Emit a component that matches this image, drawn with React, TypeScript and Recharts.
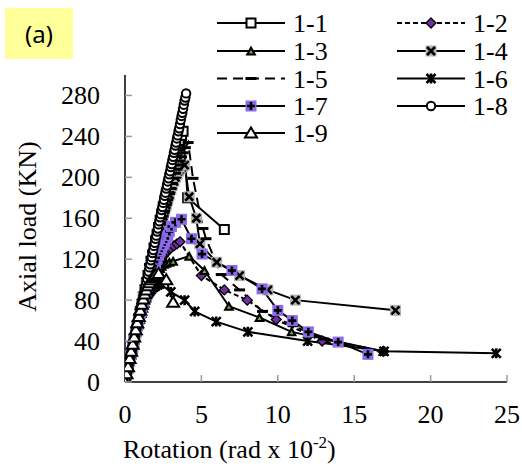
import React from "react";
import { LineChart, Line, XAxis, YAxis, Legend } from "recharts";

type Pt = [number, number];

// Rotation (rad x 10^-2), Axial load (KN)
const s11: Pt[] = [[0,0],[0.1,7],[0.2,14],[0.3,20],[0.4,27],[0.5,34],[0.6,41],[0.7,48],[0.8,55],[0.9,62],[1.0,69],[1.1,76],[1.2,83],[1.3,90],[1.4,97],[1.5,104],[1.6,111],[1.7,118],[1.8,124],[1.9,131],[2.0,138],[2.1,144],[2.2,151],[2.3,158],[2.4,164],[2.5,171],[2.6,177],[2.7,184],[2.8,190],[2.9,196],[3.0,202],[3.1,208],[3.2,214],[3.3,220],[3.4,226],[3.5,231],[3.6,236],[3.7,241],[3.8,245],[4.1,180],[6.5,149]];
const s12: Pt[] = [[0,0],[0.1,7],[0.2,13],[0.3,20],[0.4,26],[0.5,33],[0.6,39],[0.7,45],[0.8,52],[0.9,58],[1.0,64],[1.1,70],[1.2,75],[1.3,80],[1.4,85],[1.5,90],[1.6,95],[1.7,99],[1.8,103],[1.9,107],[2.0,110],[2.1,113],[2.2,116],[2.3,119],[2.4,121],[2.5,123],[2.6,125],[2.7,127],[2.8,128],[2.9,130],[3.0,131],[3.2,133],[3.4,135],[3.6,137],[5.0,104],[6.5,90],[8.0,80],[9.9,61],[12.9,40],[16.9,30]];
const s13: Pt[] = [[0,0],[0.1,6],[0.2,13],[0.3,19],[0.4,26],[0.5,32],[0.6,38],[0.7,44],[0.8,50],[0.9,56],[1.0,61],[1.1,67],[1.2,72],[1.3,77],[1.4,82],[1.5,87],[1.6,91],[1.7,95],[1.8,98],[1.9,101],[2.0,104],[2.1,107],[2.2,109],[2.3,111],[2.4,113],[2.55,115],[2.7,116],[2.9,117],[3.15,118],[4.2,123],[5.2,109],[6.8,74],[8.8,63],[10.9,49],[16.9,30]];
const s14: Pt[] = [[0,0],[0.1,7],[0.2,14],[0.3,20],[0.4,27],[0.5,34],[0.6,41],[0.7,48],[0.8,55],[0.9,61],[1.0,68],[1.1,75],[1.2,82],[1.3,88],[1.4,95],[1.5,102],[1.6,108],[1.7,115],[1.8,121],[1.9,127],[2.0,133],[2.1,139],[2.2,145],[2.3,151],[2.4,157],[2.5,162],[2.6,168],[2.7,173],[2.8,178],[2.9,183],[3.0,188],[3.1,192],[3.2,196],[3.3,200],[3.4,203],[3.5,206],[3.6,208],[3.75,210],[3.9,212],[4.2,181],[4.67,160],[4.9,135],[6.0,117],[7.5,104],[9.35,90],[11.15,80],[17.7,70]];
const s15: Pt[] = [[0,0],[0.1,7],[0.2,13],[0.3,20],[0.4,27],[0.5,33],[0.6,40],[0.7,47],[0.8,54],[0.9,60],[1.0,67],[1.1,74],[1.2,81],[1.3,87],[1.4,94],[1.5,100],[1.6,107],[1.7,113],[1.8,119],[1.9,126],[2.0,132],[2.1,138],[2.2,144],[2.3,150],[2.4,156],[2.5,162],[2.6,167],[2.7,173],[2.8,178],[2.9,184],[3.0,189],[3.1,194],[3.2,199],[3.3,204],[3.4,208],[3.5,212],[3.6,216],[3.7,220],[3.8,224],[3.95,229],[4.13,234],[4.45,199],[5.1,150],[5.3,140],[6.3,105],[7.5,90],[9.0,69],[11.0,55],[13.0,42],[16.9,30]];
const s16: Pt[] = [[0,0],[0.1,8],[0.2,15],[0.3,22],[0.4,29],[0.5,36],[0.6,43],[0.7,50],[0.8,56],[0.9,62],[1.0,67],[1.1,72],[1.2,76],[1.3,80],[1.4,83],[1.5,86],[1.6,88],[1.7,90],[1.8,92],[1.9,93],[2.0,94],[2.15,95],[2.3,96],[3.0,88],[3.9,80],[4.56,69],[5.97,59],[8.04,49],[11.95,40],[16.95,30],[24.3,28]];
const s17: Pt[] = [[0,0],[0.1,7],[0.2,14],[0.3,21],[0.4,28],[0.5,35],[0.6,42],[0.7,49],[0.8,55],[0.9,61],[1.0,67],[1.1,73],[1.2,78],[1.3,84],[1.4,89],[1.5,94],[1.6,99],[1.7,104],[1.8,108],[1.9,112],[2.0,116],[2.1,120],[2.2,124],[2.3,128],[2.4,131],[2.5,134],[2.6,137],[2.7,140],[2.8,143],[2.9,147],[3.04,152],[3.3,156],[3.7,159],[4.35,140],[5.04,125],[7.0,109],[8.97,91],[10.0,70],[10.95,60],[12.0,49],[13.95,39],[15.9,27]];
const s18: Pt[] = [[0,0],[0.05,3],[0.1,7],[0.15,10],[0.2,14],[0.25,17],[0.3,21],[0.35,24],[0.4,28],[0.45,31],[0.5,35],[0.55,38],[0.6,42],[0.65,45],[0.7,49],[0.75,52],[0.8,56],[0.85,59],[0.9,63],[0.95,66],[1.0,70],[1.05,73],[1.1,77],[1.15,80],[1.2,84],[1.25,87],[1.3,91],[1.35,94],[1.4,98],[1.45,101],[1.5,105],[1.55,108],[1.6,112],[1.65,115],[1.7,119],[1.75,122],[1.8,126],[1.85,129],[1.9,133],[1.95,136],[2.0,140],[2.05,143],[2.1,147],[2.15,150],[2.2,154],[2.25,157],[2.3,161],[2.35,164],[2.4,168],[2.45,171],[2.5,175],[2.55,178],[2.6,182],[2.65,185],[2.7,189],[2.75,192],[2.8,196],[2.85,199],[2.9,203],[2.95,206],[3.0,210],[3.05,213],[3.1,217],[3.15,220],[3.2,224],[3.25,227],[3.3,231],[3.35,234],[3.4,238],[3.45,241],[3.5,245],[3.55,248],[3.6,252],[3.65,256],[3.7,260],[3.75,263],[3.8,267],[3.85,271],[3.9,275],[3.95,278],[4.0,282]];
const s19: Pt[] = [[0,0],[0.1,8],[0.2,15],[0.3,23],[0.4,30],[0.5,37],[0.6,44],[0.7,51],[0.8,58],[0.9,64],[1.0,70],[1.1,76],[1.2,81],[1.3,86],[1.4,90],[1.5,94],[1.6,97],[1.7,100],[1.8,102],[1.9,104],[2.0,105],[2.2,106],[2.7,100],[3.15,78]];

const seriesNames = ["1-1", "1-2", "1-3", "1-4", "1-5", "1-6", "1-7", "1-8", "1-9"];
const seriesValues: Pt[][] = [s11, s12, s13, s14, s15, s16, s17, s18, s19];
const markerKinds = ["square", "diamond", "triFill", "xbox", "dash", "star", "plusSq", "circle", "triOpen"];
const dashes = ["", "5 3", "", "", "10 6", "", "", "", ""];

const xTicks = [0, 5, 10, 15, 20, 25];
const yTicks = [0, 40, 80, 120, 160, 200, 240, 280];

const SERIF = "'Liberation Serif', 'Times New Roman', serif";
const PURPLE_D = "#7030A0";
const PURPLE_L = "#8B6BEA";
const GREEN = "#70AD47";

function Marker({ kind, cx, cy }: { kind: string; cx: number; cy: number }) {
  switch (kind) {
    case "square":
      return <rect x={cx - 4.5} y={cy - 4.5} width={9} height={9} fill="#fff" stroke="#000" strokeWidth={2} />;
    case "diamond":
      return <polygon points={`${cx},${cy - 5} ${cx + 5},${cy} ${cx},${cy + 5} ${cx - 5},${cy}`} fill={PURPLE_D} stroke="#000" strokeWidth={1.3} />;
    case "triFill":
      return (
        <g>
          <polygon points={`${cx},${cy - 5.5} ${cx + 5.5},${cy + 4.5} ${cx - 5.5},${cy + 4.5}`} fill="#000" />
          <polygon points={`${cx},${cy - 1} ${cx + 2},${cy + 2.5} ${cx - 2},${cy + 2.5}`} fill={GREEN} />
        </g>
      );
    case "xbox":
      return (
        <g>
          <rect x={cx - 5.5} y={cy - 5.5} width={11} height={11} fill="#B4B4B4" />
          <path d={`M${cx - 4},${cy - 4}L${cx + 4},${cy + 4}M${cx + 4},${cy - 4}L${cx - 4},${cy + 4}`} stroke="#000" strokeWidth={2.6} />
        </g>
      );
    case "dash":
      return <rect x={cx - 5.5} y={cy - 1.5} width={11} height={3} fill="#000" />;
    case "star":
      return <path d={`M${cx - 4.5},${cy - 4.5}L${cx + 4.5},${cy + 4.5}M${cx + 4.5},${cy - 4.5}L${cx - 4.5},${cy + 4.5}M${cx},${cy - 5}L${cx},${cy + 5}`} stroke="#000" strokeWidth={2.6} />;
    case "plusSq":
      return (
        <g>
          <rect x={cx - 5.5} y={cy - 5.5} width={11} height={11} fill={PURPLE_L} />
          <path d={`M${cx - 4},${cy}L${cx + 4},${cy}M${cx},${cy - 4}L${cx},${cy + 4}`} stroke="#000" strokeWidth={2.6} />
        </g>
      );
    case "circle":
      return <circle cx={cx} cy={cy} r={4.2} fill="#fff" stroke="#000" strokeWidth={2} />;
    case "triOpen":
      return <polygon points={`${cx},${cy - 5.5} ${cx + 6},${cy + 4.5} ${cx - 6},${cy + 4.5}`} fill="#fff" stroke="#000" strokeWidth={2} />;
    default:
      return null;
  }
}

const YTick = (props: any) => {
  const { x, y, payload } = props;
  return (
    <g>
      <line x1={x} x2={x + 7} y1={y} y2={y} stroke="#9a9a9a" strokeWidth={1.5} />
      <text x={x - 25} y={y + 9} textAnchor="end" fontSize={26} fontFamily={SERIF} fill="#000">
        {payload.value}
      </text>
    </g>
  );
};

const XTick = (props: any) => {
  const { x, y, payload } = props;
  return (
    <g>
      {payload.value !== 0 && <line x1={x} x2={x} y1={y} y2={y - 7} stroke="#9a9a9a" strokeWidth={1.5} />}
      <text x={x} y={y + 41} textAnchor="middle" fontSize={26} fontFamily={SERIF} fill="#000">
        {payload.value}
      </text>
    </g>
  );
};

const XTitle = (props: any) => {
  const vb = props.viewBox || { x: 125, y: 382 };
  return (
    <text x={vb.x - 2} y={vb.y + 76} textAnchor="start" fontSize={26} fontFamily={SERIF} fill="#000">
      Rotation (rad x 10
      <tspan fontSize={17} dy={-10}>-2</tspan>
      <tspan dy={10}>)</tspan>
    </text>
  );
};

const YTitle = (props: any) => {
  const vb = props.viewBox || { x: 65, y: 75, height: 307 };
  const cx = vb.x - 38;
  const cy = vb.y + vb.height / 2 - 2;
  return (
    <text x={cx} y={cy} transform={`rotate(-90 ${cx} ${cy})`} textAnchor="middle" dominantBaseline="central" fontSize={26} fontFamily={SERIF} fill="#000">
      Axial load (KN)
    </text>
  );
};

const LegendContent = () => {
  const colX = [217, 397];
  const rowY = [23, 51, 78.5, 106, 133];
  return (
    <svg width={522} height={150} style={{ display: "block" }}>
      {seriesNames.map((name, i) => {
        const lx = colX[i % 2];
        const ly = rowY[Math.floor(i / 2)];
        return (
          <g key={name}>
            <line x1={lx} x2={lx + 68} y1={ly} y2={ly} stroke="#000" strokeWidth={2} strokeDasharray={dashes[i] || undefined} />
            <Marker kind={markerKinds[i]} cx={lx + 34} cy={ly} />
            <text x={lx + 76} y={ly + 9} fontSize={26} fontFamily={SERIF} fill="#000">
              {name}
            </text>
          </g>
        );
      })}
    </svg>
  );
};

export default function App() {
  const datasets = seriesValues.map((s) => s.map(([x, y]) => ({ x, y })));
  return (
    <div style={{ position: "absolute", left: 0, top: 0, width: 522, height: 469, background: "#fff" }}>
      <div
        style={{
          position: "absolute",
          left: 5,
          top: 8,
          width: 68,
          height: 51,
          background: "#FFFF99",
          zIndex: 2,
          display: "flex",
          alignItems: "center",
          justifyContent: "center",
          fontFamily: "'Noto Sans', 'Open Sans', sans-serif",
          fontSize: 24,
          color: "#000",
        }}
      >
        (a)
      </div>
      <LineChart width={522} height={469} margin={{ top: 75, right: 15, bottom: 47, left: 65 }}>
        <XAxis
          dataKey="x"
          type="number"
          domain={[0, 25]}
          ticks={xTicks}
          interval={0}
          tickSize={0}
          tickMargin={0}
          tick={<XTick />}
          tickLine={false}
          axisLine={{ stroke: "#000", strokeWidth: 1.5 }}
          height={40}
          allowDataOverflow
          label={<XTitle />}
        />
        <YAxis
          type="number"
          domain={[0, 300]}
          ticks={yTicks}
          interval={0}
          tickSize={0}
          tickMargin={0}
          tick={<YTick />}
          tickLine={false}
          axisLine={{ stroke: "#000", strokeWidth: 1.5 }}
          width={60}
          allowDataOverflow
          label={<YTitle />}
        />
        <Legend
          layout="horizontal"
          verticalAlign="middle"
          align="center"
          content={<LegendContent />}
          wrapperStyle={{ top: 0, left: 0, width: 522, height: 150 }}
        />
        {datasets.map((d, i) => (
          <Line
            key={seriesNames[i]}
            data={d}
            dataKey="y"
            name={seriesNames[i]}
            type="linear"
            stroke="#000"
            strokeWidth={2}
            strokeDasharray={dashes[i] || undefined}
            isAnimationActive={false}
            legendType="none"
            dot={(p: any) =>
              p.cx == null || p.cy == null ? (
                <g key={`e-${i}-${p.index}`} />
              ) : (
                <g key={`d-${i}-${p.index}`}>
                  <Marker kind={markerKinds[i]} cx={p.cx} cy={p.cy} />
                </g>
              )
            }
            activeDot={false}
          />
        ))}
      </LineChart>
    </div>
  );
}
